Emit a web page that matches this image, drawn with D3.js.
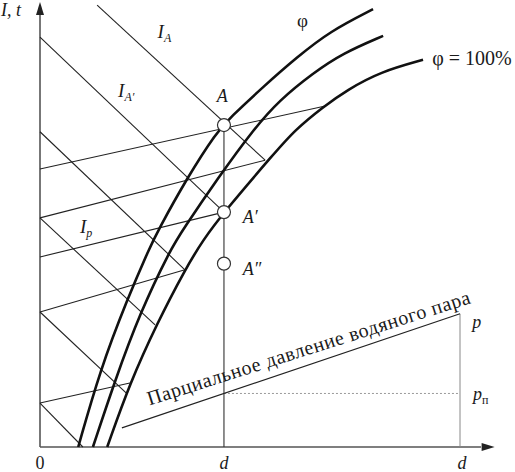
<!DOCTYPE html>
<html>
<head>
<meta charset="utf-8">
<script src="https://d3js.org/d3.v7.min.js"></script>
<style>
  body { margin: 0; background: #fff; }
  svg { display: block; }
  text { font-family: "Liberation Serif", "DejaVu Serif", serif; fill: #1a1a1a; }
</style>
</head>
<body>
<svg width="515" height="472"></svg>
<script>
// d (moisture content) along x, I (enthalpy) / t along y, arbitrary units 0..100
// phi curves, [d, I]
var phiCurve = [[9.1,0],[14.3,17.3],[20.7,33.1],[26.2,45.1],[27.9,48.4],[35.0,60.6],[42.1,71.0],[45.2,74.1],[53.1,81.1],[61.2,87.8],[69.0,93.6],[79.3,98.6]];
var midCurve = [[12.6,0],[17.9,15.1],[23.8,30.2],[31.0,44.4],[34.0,48.9],[42.4,60.6],[50.7,71.4],[57.1,78.2],[65.0,84.2],[72.1,88.7],[81.7,92.6]];
var satCurve = [[16.0,0],[21.4,14.4],[27.9,27.9],[34.5,39.9],[38.8,46.6],[43.8,52.9],[56.0,66.4],[60.7,71.4],[67.4,76.6],[73.1,80.4],[81.0,84.5],[91.2,87.2]];

// isotherms (rising) and enthalpy lines (falling): [d0, I0, d1, I1]
var isotherms = [[0,62.6,67.9,76.8],[0,51.6,53.6,64.6],[0,42.8,43.8,52.9],[0,30.4,34.5,39.9],[0,9.9,21.4,14.4]];
var enthalpyLines = [[13.6,99.5,53.6,64.6],[0,92.3,43.8,52.9],[0,71.0,34.5,39.9],[0,51.6,27.4,27.5],[0,30.4,20.5,12.2],[0,9.9,10.2,0]];

// state points on d = const
var pointNames = ["A", "A′", "A″"];
var pointD = 43.8;
var pointI = [72.5, 52.9, 41.3];

// partial pressure of water vapour line
var pressureD = [19.5, 100];
var pressureP = [4.3, 30.0];

var xTicks = [{v: 0, t: "0"}, {v: pointD, t: "d"}, {v: 100.5, t: "d"}];

var svg = d3.select("svg");
var x = d3.scaleLinear().domain([0, 100]).range([40, 460]);
var y = d3.scaleLinear().domain([0, 100]).range([447, 3]);

var thin = "#222";

// axes
svg.append("line").attr("x1", x(0)).attr("y1", y(0)).attr("x2", x(0)).attr("y2", y(97.5))
  .attr("stroke", "#555").attr("stroke-width", 1.6);
svg.append("line").attr("x1", x(0)).attr("y1", y(0)).attr("x2", x(105)).attr("y2", y(0))
  .attr("stroke", "#555").attr("stroke-width", 1.6);
svg.append("path")
  .attr("d", "M" + x(0) + "," + (y(100) - 1) + "L" + (x(0) - 4) + "," + (y(100) + 12) + "L" + (x(0) + 4) + "," + (y(100) + 12) + "Z")
  .attr("fill", "#222");
svg.append("path")
  .attr("d", "M" + (x(108) + 1) + "," + y(0) + "L" + (x(108) - 12) + "," + (y(0) - 4) + "L" + (x(108) - 12) + "," + (y(0) + 4) + "Z")
  .attr("fill", "#222");

// isotherms and enthalpy lines
svg.append("g").selectAll("line").data(isotherms.concat(enthalpyLines)).join("line")
  .attr("x1", d => x(d[0])).attr("y1", d => y(d[1]))
  .attr("x2", d => x(d[2])).attr("y2", d => y(d[3]))
  .attr("stroke", thin).attr("stroke-width", 1.1);

// d = const through the state points
svg.append("line").attr("x1", x(pointD)).attr("y1", y(pointI[0])).attr("x2", x(pointD)).attr("y2", y(0))
  .attr("stroke", "#333").attr("stroke-width", 1.1);

// partial pressure
var pA = [x(pressureD[0]), y(pressureP[0])], pB = [x(pressureD[1]), y(pressureP[1])];
var pAtD = pressureP[0] + (pointD - pressureD[0]) / (pressureD[1] - pressureD[0]) * (pressureP[1] - pressureP[0]);
svg.append("line").attr("x1", x(pressureD[1])).attr("y1", y(pressureP[1])).attr("x2", x(pressureD[1])).attr("y2", y(0))
  .attr("stroke", "#888").attr("stroke-width", 1);
svg.append("line").attr("x1", x(pointD)).attr("y1", y(pAtD)).attr("x2", x(pressureD[1])).attr("y2", y(pAtD))
  .attr("stroke", "#999").attr("stroke-width", 1).attr("stroke-dasharray", "2,2");
svg.append("line").attr("x1", pA[0]).attr("y1", pA[1]).attr("x2", pB[0]).attr("y2", pB[1])
  .attr("stroke", thin).attr("stroke-width", 1.2);

var ang = Math.atan2(pB[1] - pA[1], pB[0] - pA[0]) * 180 / Math.PI + 1.0;
svg.append("text")
  .attr("transform", "translate(" + pA[0] + "," + pA[1] + ") rotate(" + ang + ")")
  .attr("x", 33).attr("y", -13)
  .attr("font-size", 20)
  .attr("textLength", 338).attr("lengthAdjust", "spacing")
  .text("Парциальное давление водяного пара");

// phi curves
var line = d3.line().x(d => x(d[0])).y(d => y(d[1])).curve(d3.curveBasis);
svg.append("g").selectAll("path").data([phiCurve, midCurve, satCurve]).join("path")
  .attr("d", line).attr("fill", "none").attr("stroke", "#111").attr("stroke-width", 2.6);

// state point circles
svg.append("g").selectAll("circle").data(pointI).join("circle")
  .attr("cx", x(pointD)).attr("cy", d => y(d)).attr("r", 6.5)
  .attr("fill", "#fff").attr("stroke", "#333").attr("stroke-width", 1.2);

// labels
function lab(dx, iy, parts, size, anchor) {
  var t = svg.append("text").attr("x", x(dx)).attr("y", y(iy)).attr("font-size", size || 18)
    .attr("text-anchor", anchor || "start");
  parts.forEach(function(p) {
    var s = t.append("tspan").text(p.t);
    if (p.it) s.attr("font-style", "italic");
    if (p.sub) s.attr("font-size", p.sub).attr("dy", 4);
  });
  return t;
}
lab(-9.3, 97.1, [{t: "I, t", it: true}]);
lab(28.0, 92.1, [{t: "I", it: true}, {t: "A", it: true, sub: 12}], 19);
lab(18.6, 78.8, [{t: "I", it: true}, {t: "A′", it: true, sub: 12}], 19);
lab(9.5, 48.2, [{t: "I", it: true}, {t: "p", it: true, sub: 12}], 19);
lab(42.1, 77.7, [{t: pointNames[0], it: true}]);
lab(48.3, 50.5, [{t: pointNames[1], it: true}]);
lab(48.3, 38.7, [{t: pointNames[2], it: true}]);
lab(61.2, 94.6, [{t: "φ"}], 19);
lab(93.4, 86.0, [{t: "φ = 100%"}], 20);
lab(102.9, 26.8, [{t: "p", it: true}]);
lab(103.1, 10.6, [{t: "p", it: true}, {t: "п", sub: 12}]);

svg.append("g").selectAll("text").data(xTicks).join("text")
  .attr("x", d => x(d.v)).attr("y", y(-4.9)).attr("font-size", 18).attr("text-anchor", "middle")
  .attr("font-style", d => d.t === "d" ? "italic" : "normal")
  .text(d => d.t);
</script>
</body>
</html>
